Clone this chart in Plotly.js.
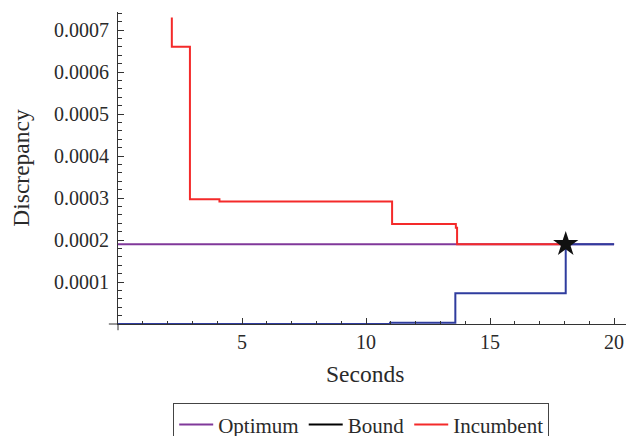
<!DOCTYPE html>
<html>
<head>
<meta charset="utf-8">
<script src="https://cdn.plot.ly/plotly-3.0.1.min.js"></script>
<style>html,body{margin:0;padding:0;background:#fff;}#chart{width:626px;height:436px;}</style>
</head>
<body>
<div id="chart"></div>
<script>
// Data
const optimumX = [0, 20];
const optimumY = [0.00019, 0.00019];

const boundX = [0, 10.97, 13.6, 18.05, 20];
const boundY = [0, 0.000003, 0.000073, 0.00019, 0.00019];

const incumbentX = [2.17, 2.17, 2.9, 4.09, 11.05, 13.62, 13.67, 18.05];
const incumbentY = [0.00073, 0.00066, 0.000297, 0.000292, 0.000238, 0.000229, 0.00019, 0.00019];

const starX = [18.05];
const starY = [0.00019];

const yTickVals = [0.0001, 0.0002, 0.0003, 0.0004, 0.0005, 0.0006, 0.0007];
const yTickText = ['0.0001', '0.0002', '0.0003', '0.0004', '0.0005', '0.0006', '0.0007'];
const xTickVals = [5, 10, 15, 20];
const xTickText = ['5', '10', '15', '20'];

const FONT = 'Liberation Serif, Times New Roman, serif';
const purple = '#80389a';
const blue = '#2f3c9e';
const red = '#f42a2a';
const TXT = '#2a2a2a';

const traces = [
  {x: optimumX, y: optimumY, mode: 'lines', line: {color: purple, width: 2}, showlegend: false, hoverinfo: 'skip'},
  {x: incumbentX, y: incumbentY, mode: 'lines', line: {color: red, width: 2, shape: 'hv'}, showlegend: false, hoverinfo: 'skip'},
  {x: boundX, y: boundY, mode: 'lines', line: {color: blue, width: 2, shape: 'hv'}, showlegend: false, hoverinfo: 'skip', cliponaxis: false},
  {x: starX, y: starY, mode: 'markers', marker: {symbol: 'star', size: 19, color: '#111'}, showlegend: false},
  // legend entries
  {x: [null], y: [null], mode: 'lines', name: 'Optimum', line: {color: purple, width: 2}},
  {x: [null], y: [null], mode: 'lines', name: 'Bound', line: {color: '#000', width: 2}},
  {x: [null], y: [null], mode: 'lines', name: 'Incumbent', line: {color: red, width: 2}}
];

const layout = {
  width: 626, height: 436,
  margin: {l: 118, r: 0, t: 12, b: 112},
  paper_bgcolor: '#fff', plot_bgcolor: '#fff',
  font: {family: FONT, size: 20, color: TXT},
  showlegend: true,
  legend: {
    orientation: 'h', xref: 'container', yref: 'container',
    x: 0.577, xanchor: 'center', y: 0.075, yanchor: 'top',
    bordercolor: '#444', borderwidth: 1, bgcolor: '#fff',
    font: {family: FONT, size: 21, color: TXT},
    itemwidth: 34, tracegroupgap: 0
  },
  xaxis: {
    range: [0, 20.48], showgrid: false, zeroline: false,
    showline: true, linecolor: '#333', linewidth: 1,
    ticks: 'inside', ticklen: 6, tickcolor: '#333', tickwidth: 1,
    tickvals: xTickVals, ticktext: xTickText,
    minor: {ticks: 'inside', dtick: 1, tick0: 0, ticklen: 3.5, tickcolor: '#333', tickwidth: 1, showgrid: false},
    tickfont: {family: FONT, size: 20, color: TXT},
    automargin: false,
    fixedrange: true
  },
  yaxis: {
    range: [0, 0.000743], showgrid: false, zeroline: false,
    showline: true, linecolor: '#333', linewidth: 1,
    ticks: 'inside', ticklen: 6, tickcolor: '#333', tickwidth: 1,
    tickvals: yTickVals, ticktext: yTickText,
    minor: {ticks: 'inside', dtick: 0.00002, tick0: 0, ticklen: 3.5, tickcolor: '#333', tickwidth: 1, showgrid: false},
    tickfont: {family: FONT, size: 20, color: TXT},
    ticklabelstandoff: 4,
    title: {text: 'Discrepancy', font: {family: FONT, size: 23.5, color: TXT}, standoff: 17},
    automargin: false,
    fixedrange: true
  },
  annotations: [
    {text: 'Seconds', xref: 'paper', yref: 'paper', x: 0.486, y: -0.112, xanchor: 'center', yanchor: 'top',
     showarrow: false, font: {family: FONT, size: 23.5, color: TXT}}
  ],
  shapes: [
    {type: 'line', xref: 'paper', yref: 'paper', x0: -0.018, x1: 0, y0: 0, y1: 0, line: {color: '#333', width: 1}},
    {type: 'line', xref: 'paper', yref: 'paper', x0: 0, x1: 0, y0: -0.02, y1: 0, line: {color: '#333', width: 1}}
  ]
};

Plotly.newPlot('chart', traces, layout, {displayModeBar: false, staticPlot: true});
</script>
</body>
</html>
